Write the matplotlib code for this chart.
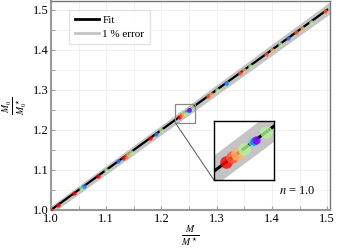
import matplotlib
matplotlib.use("Agg")
import matplotlib.pyplot as plt
import numpy as np

plt.rcParams['font.family'] = ['Liberation Serif', 'DejaVu Serif']
plt.rcParams['mathtext.fontset'] = 'stix'

# ---- data ----
fit_x = [1.0, 1.5]
fit_y = [1.0, 1.5]
band_x = [0.99, 1.51]
err_frac = 0.01

series_cval = [1.0, 0.88, 0.75, 0.6, 0.35, 0.15, 0.0]
series_x = [
    [1.0, 1.012, 1.042, 1.085, 1.13, 1.18, 1.232],
    [1.135, 1.236, 1.284, 1.342, 1.39, 1.444, 1.497],
    [1.14, 1.239, 1.29, 1.35, 1.40, 1.455],
    [1.055, 1.10, 1.145, 1.20, 1.243, 1.256, 1.30, 1.36, 1.415, 1.47],
    [1.058, 1.248, 1.318],
    [1.06, 1.122, 1.19, 1.249, 1.316, 1.43],
    [1.250],
]
series_y = [
    [1.0, 1.012, 1.042, 1.085, 1.13, 1.18, 1.232],
    [1.135, 1.236, 1.284, 1.342, 1.39, 1.444, 1.497],
    [1.14, 1.239, 1.29, 1.35, 1.40, 1.455],
    [1.055, 1.10, 1.145, 1.20, 1.243, 1.256, 1.30, 1.36, 1.415, 1.47],
    [1.058, 1.248, 1.318],
    [1.06, 1.122, 1.19, 1.249, 1.316, 1.43],
    [1.250],
]
series_ms_inset = [9, 9, 9, 9, 6, 6, 6]
xticks = [1.0, 1.1, 1.2, 1.3, 1.4, 1.5]
yticks = [1.0, 1.1, 1.2, 1.3, 1.4, 1.5]

fig = plt.figure(figsize=(3.38, 2.49), dpi=100)
ax = fig.add_axes([0.151, 0.157, 0.825, 0.839])

def draw(a, ms_list, lw):
    bx = np.array(band_x)
    a.fill_between(bx, bx * (1 - err_frac), bx * (1 + err_frac), color='#c4c4c4', lw=0, zorder=1)
    a.plot(fit_x, fit_y, color='black', lw=lw, zorder=2)
    cmap = plt.cm.rainbow
    for c, xs, ys, ms in zip(series_cval, series_x, series_y, ms_list):
        a.plot(xs, ys, 'o', ms=ms, color=cmap(c), alpha=0.8, mec='none', zorder=3)

draw(ax, [3.2] * len(series_x), 1.6)
ax.plot([], [], color='black', lw=2.0, label='Fit')
ax.plot([], [], color='#c4c4c4', lw=2.0, label='1 % error')
ax.set_xlim(1.0, 1.505)
ax.set_ylim(1.0, 1.522)
ax.set_xticks(xticks)
ax.set_yticks(yticks)
ax.set_xticks([1.05, 1.15, 1.25, 1.35, 1.45], minor=True)
ax.set_yticks([1.05, 1.15, 1.25, 1.35, 1.45], minor=True)
ax.tick_params(which='both', direction='in', labelsize=9, length=3, color='#999999', pad=2)
ax.grid(True, which='both', color='#eeeeee', lw=0.6)
ax.set_axisbelow(True)
for s in ax.spines.values():
    s.set_color('#777777')
    s.set_linewidth(1.0)
ax.spines['left'].set_color('#999999')
ax.spines['left'].set_linewidth(1.5)
ax.spines['bottom'].set_color('#999999')
ax.spines['bottom'].set_linewidth(1.5)

ax.set_xlabel(r'$\frac{M}{M^\star}$', fontsize=10, labelpad=0)
ax.set_ylabel(r'$\frac{M_0}{M_0^\star}$', fontsize=10, labelpad=2)

leg = ax.legend(loc='upper left', bbox_to_anchor=(0.045, 0.985), fontsize=8,
                frameon=True, fancybox=False, edgecolor='#dddddd', handlelength=2.2,
                borderpad=0.5, labelspacing=0.35, handletextpad=0.3)
ax.text(0.95, 0.09, r'$n$ = 1.0', transform=ax.transAxes, ha='right', va='center', fontsize=9)

# inset
axins = fig.add_axes([0.633, 0.277, 0.178, 0.237])
draw(axins, series_ms_inset, 2.2)
axins.set_xlim(1.225, 1.261)
axins.set_ylim(1.218, 1.265)
axins.set_xticks([])
axins.set_yticks([])
for s in axins.spines.values():
    s.set_color('black')
    s.set_linewidth(1.0)
rect, connectors = ax.indicate_inset_zoom(axins, edgecolor='#888888', alpha=1.0, lw=0.9)
for cn in connectors:
    cn.set_visible(False)
connectors[0].set_visible(True)
connectors[0].set_color('#555555')
connectors[0].set_linewidth(0.7)

fig.savefig('out.png', dpi=100)
